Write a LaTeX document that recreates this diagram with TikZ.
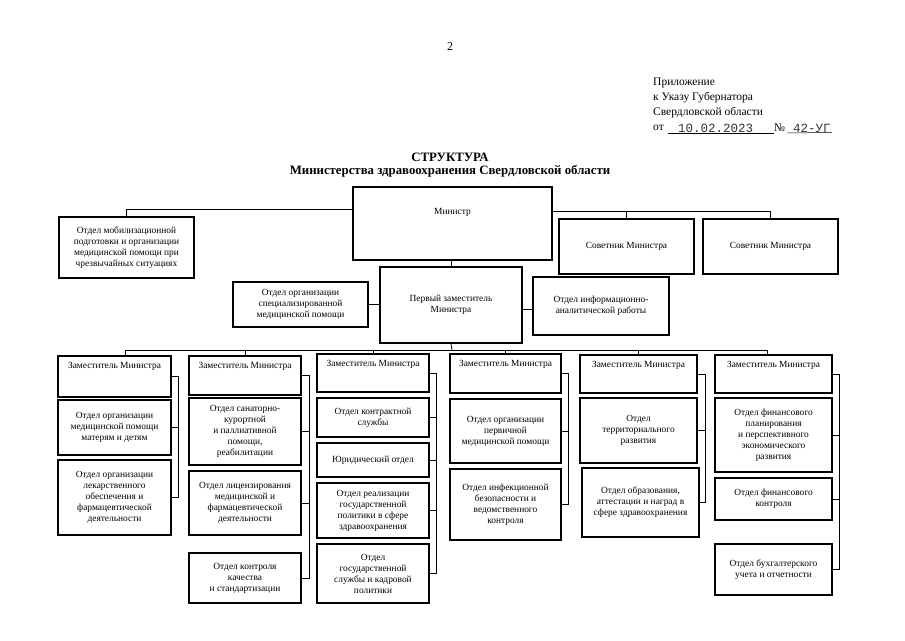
\documentclass[tikz,border=0pt]{standalone}
\usepackage{fontspec}
\setmainfont{Liberation Serif}
\newfontfamily\monof{Liberation Mono}
\tikzset{
 box/.style={draw, line width=1.2pt, inner sep=1pt, align=center, font=\fontsize{9.4}{11}\selectfont},
 txt/.style={align=center, inner sep=0pt, font=\fontsize{9.4}{11}\selectfont},
 hdr/.style={anchor=west, inner sep=0pt, font=\fontsize{11.5}{14}\selectfont},
 ttl/.style={inner sep=0pt, font=\bfseries\fontsize{12.8}{14}\selectfont},
 conn/.style={line width=0.8pt},
}
\newcommand\bx[6]{\node[box, minimum width={(#4-#2)*1pt}, minimum height={(#5-#3)*1pt}] (#1) at ({(#2+#4)/2},{(#3+#5)/2}) {#6};}
\begin{document}
\begin{tikzpicture}[x=1pt,y=-1pt]
\useasboundingbox (0,0) rectangle (905,640);
% header
\node[inner sep=0pt, font=\fontsize{12}{14}\selectfont] (pg) at (450,47) {2};
\node[hdr] (h1) at (653,83) {Приложение};
\node[hdr] (h2) at (653,98) {к Указу Губернатора};
\node[hdr] (h3) at (653,113) {Свердловской области};
\node[hdr] (h4) at (653,128) {от};
\node[anchor=west, inner sep=0pt, text=black!80, font=\monof\fontsize{12.5}{14}\selectfont] (date) at (678,128) {10.02.2023};
\node[hdr] (nr) at (774,128) {№};
\node[anchor=west, inner sep=0pt, text=black!80, font=\monof\fontsize{12.5}{14}\selectfont] (num) at (793,128) {42-УГ};
\draw[line width=0.5pt] ([xshift=4pt,yshift=-5pt]h4.east) -- ([yshift=-5pt]date.east -| nr.west);
\draw[line width=0.5pt] ([xshift=2pt,yshift=-5pt]nr.east) -- ([xshift=1pt]num.east |- num.south);
\node[ttl] (t1) at (450,157) {СТРУКТУРА};
\node[ttl] (t2) at (450,171) {Министерства здравоохранения Свердловской области};
% top level
\bx{min}{353}{187}{552}{260}{}
\node[txt] (mint) at ([yshift=-26pt]min.north) {Министр};
\bx{mob}{59}{217}{194}{278}{Отдел мобилизационной\\подготовки и организации\\медицинской помощи при\\чрезвычайных ситуациях}
\bx{adv1}{559}{219}{694}{274}{Советник Министра}
\bx{adv2}{703}{219}{838}{274}{Советник Министра}
\bx{first}{380}{267}{522}{343}{Первый заместитель\\Министра}
\bx{spec}{233}{282}{368}{327}{Отдел организации\\специализированной\\медицинской помощи}
\bx{info}{533}{277}{669}{335}{Отдел информационно-\\аналитической работы}
\draw[conn] ([yshift=-23pt]min.north west) -| (mob.north);
\draw[conn] ([yshift=-25pt]min.north east) -| (adv2.north);
\draw[conn] (adv1.north) -- ++(0,-7);
\draw[conn] (min.south -| first.north) -- (first.north);
\draw[conn] (spec.east) -- (spec.east -| first.west);
\draw[conn] ([yshift=-3pt]info.west) -- ([yshift=-3pt]info.west -| first.east);
% deputies
\bx{d1}{58}{356}{171}{397}{}
\bx{d2}{189}{356}{301}{395}{}
\bx{d3}{317}{354}{429}{392}{}
\bx{d4}{450}{354}{561}{393}{}
\bx{d5}{580}{355}{697}{393}{}
\bx{d6}{715}{355}{832}{393}{}
\foreach \n in {d1,d2,d3,d4,d5,d6}{
  \node[txt] (\n t) at ([yshift=-11pt]\n.north) {Заместитель Министра};
}
\coordinate (bus) at (452,350);
\coordinate (d1top) at ([xshift=11pt]d1.north);
\coordinate (d6top) at ([xshift=-6pt]d6.north);
\draw[conn] (first.south) -- (bus);
\draw[conn] (d1top) |- (d6top |- bus) -- (d6top);
\foreach \n in {d2,d3,d4,d5}{ \draw[conn] (\n.north) -- (\n.north |- bus); }
% column 1
\bx{c1a}{58}{400}{171}{455}{Отдел организации\\медицинской помощи\\матерям и детям}
\bx{c1b}{58}{460}{171}{535}{Отдел организации\\лекарственного\\обеспечения и\\фармацевтической\\деятельности}
% column 2
\bx{c2a}{189}{398}{301}{465}{Отдел санаторно-\\курортной\\и паллиативной\\помощи,\\реабилитации}
\bx{c2b}{189}{471}{301}{535}{Отдел лицензирования\\медицинской и\\фармацевтической\\деятельности}
\bx{c2c}{189}{553}{301}{603}{Отдел контроля\\качества\\и стандартизации}
% column 3
\bx{c3a}{317}{398}{429}{437}{Отдел контрактной\\службы}
\bx{c3b}{317}{443}{429}{477}{Юридический отдел}
\bx{c3c}{317}{483}{429}{538}{Отдел реализации\\государственной\\политики в сфере\\здравоохранения}
\bx{c3d}{317}{544}{429}{603}{Отдел\\государственной\\службы и кадровой\\политики}
% column 4
\bx{c4a}{450}{399}{561}{463}{Отдел организации\\первичной\\медицинской помощи}
\bx{c4b}{450}{469}{561}{540}{Отдел инфекционной\\безопасности и\\ведомственного\\контроля}
% column 5
\bx{c5a}{580}{398}{697}{463}{Отдел\\территориального\\развития}
\bx{c5b}{582}{468}{699}{537}{Отдел образования,\\аттестации и наград в\\сфере здравоохранения}
% column 6
\bx{c6a}{715}{398}{832}{472}{Отдел финансового\\планирования\\и перспективного\\экономического\\развития}
\bx{c6b}{715}{478}{832}{520}{Отдел финансового\\контроля}
\bx{c6c}{715}{544}{832}{595}{Отдел бухгалтерского\\учета и отчетности}
% brackets
\draw[conn] (d1.east) -- ++(7,0) |- (c1b.east);
\draw[conn] (c1a.east) -- ++(7,0);
\draw[conn] (d2.east) -- ++(8,0) |- (c2c.east);
\draw[conn] (c2a.east) -- ++(8,0);
\draw[conn] (c2b.east) -- ++(8,0);
\draw[conn] (d3.east) -- ++(7,0) |- (c3d.east);
\draw[conn] (c3a.east) -- ++(7,0);
\draw[conn] (c3b.east) -- ++(7,0);
\draw[conn] (c3c.east) -- ++(7,0);
\draw[conn] (d4.east) -- ++(7,0) |- (c4b.east);
\draw[conn] (c4a.east) -- ++(7,0);
\draw[conn] (d5.east) -- ++(8,0) |- (c5b.east);
\draw[conn] (c5a.east) -- ++(8,0);
\draw[conn] (d6.east) -- ++(7,0) |- (c6c.east);
\draw[conn] (c6a.east) -- ++(7,0);
\draw[conn] (c6b.east) -- ++(7,0);
\end{tikzpicture}
\end{document}
